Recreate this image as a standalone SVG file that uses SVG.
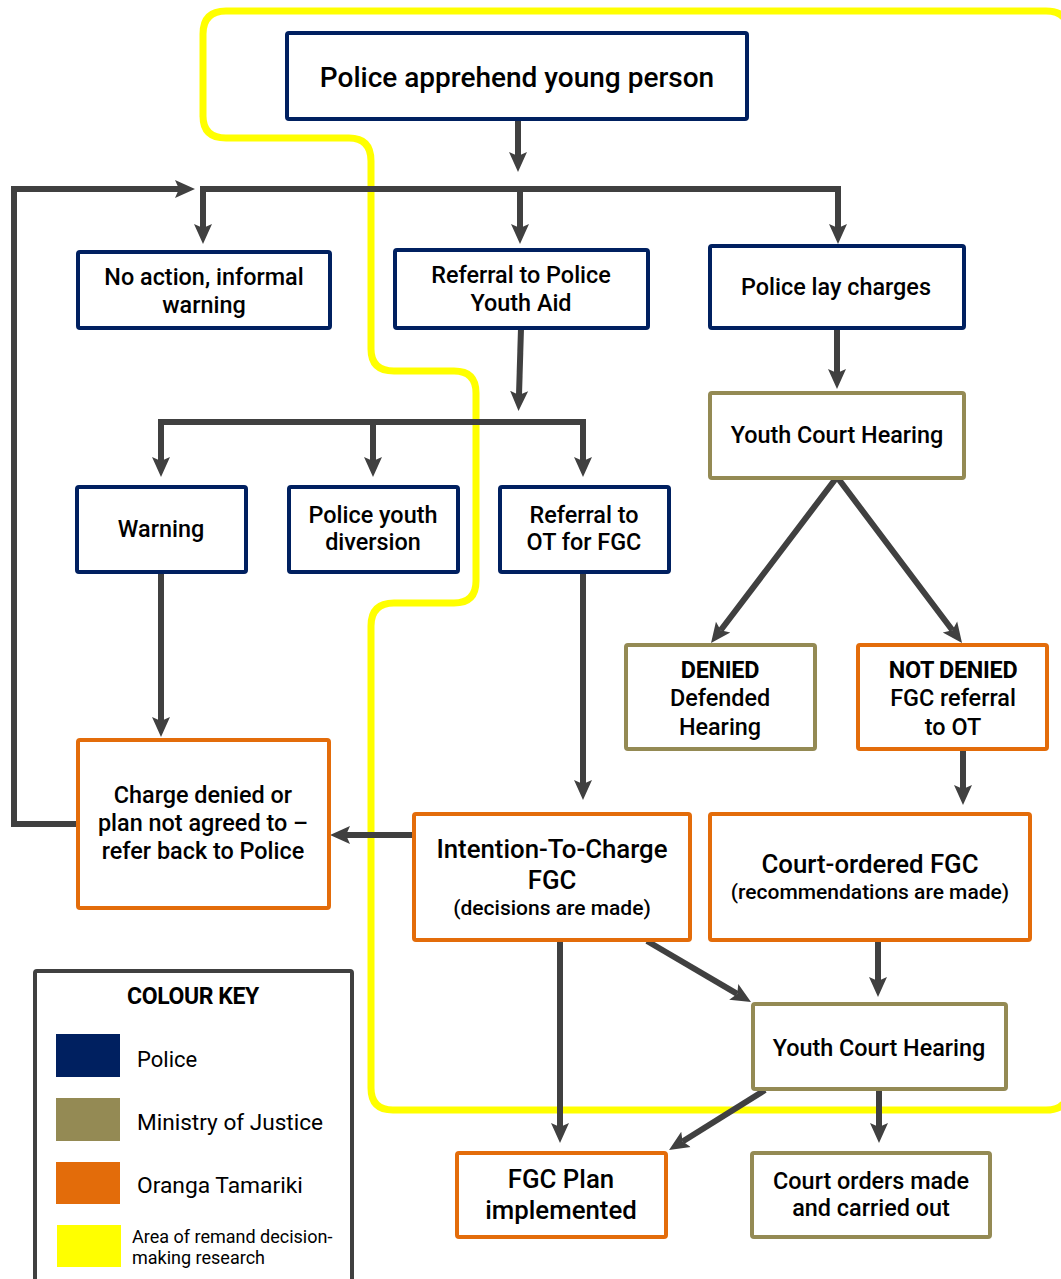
<svg xmlns="http://www.w3.org/2000/svg" width="1061" height="1279" viewBox="0 0 1061 1279">
<style>
.bg{fill:#ffffff}
.n rect{fill:#ffffff;stroke-width:4}
.police rect{stroke:#002060}
.moj rect{stroke:#948A54}
.ot rect{stroke:#E36C0A}
text{font-family:Roboto,"Liberation Sans",sans-serif;fill:#000000;text-anchor:middle}
.t{font-size:23.4px;font-weight:500}
.t24{font-size:25.8px;font-weight:500}
.t19{font-size:21px;font-weight:500}
.b{font-size:23.4px;font-weight:700;letter-spacing:-0.3px}
.c path,.c line{fill:none;stroke:#404040;stroke-width:6}
.yel{fill:none;stroke:#FFFF00;stroke-width:7}
.key text{text-anchor:start;font-weight:400}
</style>
<defs>
<marker id="ah" markerUnits="userSpaceOnUse" markerWidth="24" markerHeight="22" viewBox="0 -11 24 22" refX="4" refY="0" orient="auto-start-reverse">
<path d="M0,-9 L20,0 L0,9 L4,0 Z" fill="#404040"/>
</marker>
</defs>
<rect class="bg" x="0" y="0" width="1061" height="1279"/>
<path id="remand-area" class="yel" d="M203,117 L203,34 Q203,11 226,11 L1046,11 Q1069,11 1069,34 L1069,1087 Q1069,1110 1046,1110 L393,1110 Q371,1110 371,1088 L371,626 Q371,603 394,603 L454,603 Q476,603 476,581 L476,393 Q476,371 454,371 L394,371 Q371,371 371,349 L371,161 Q371,138 349,138 L226,138 Q203,138 203,116 Z"/>
<g id="connectors" class="c">
<path d="M518,119 L518,156" marker-end="url(#ah)"/>
<path d="M200,189 L841,189"/>
<path d="M203,189 L203,228" marker-end="url(#ah)"/>
<path d="M520,189 L520,228" marker-end="url(#ah)"/>
<path d="M838,189 L838,228" marker-end="url(#ah)"/>
<path d="M77,824 L14,824 L14,189 L179,189" marker-end="url(#ah)"/>
<path d="M521,328 L519,395" marker-end="url(#ah)"/>
<path d="M158,422 L586,422"/>
<path d="M161,422 L161,461" marker-end="url(#ah)"/>
<path d="M373,422 L373,461" marker-end="url(#ah)"/>
<path d="M583,422 L583,461" marker-end="url(#ah)"/>
<path d="M161,572 L161,721" marker-end="url(#ah)"/>
<path d="M583,572 L583,784" marker-end="url(#ah)"/>
<path d="M413,835 L346,835" marker-end="url(#ah)"/>
<path d="M837,328 L837,373" marker-end="url(#ah)"/>
<path d="M720.7,630.3 L837,477 L952.4,630.2" marker-start="url(#ah)" marker-end="url(#ah)"/>
<path d="M963,750 L963,789" marker-end="url(#ah)"/>
<path d="M878,940 L878,981" marker-end="url(#ah)"/>
<path d="M647,941 L737.2,993.9" marker-end="url(#ah)"/>
<path d="M560,940 L560,1127" marker-end="url(#ah)"/>
<path d="M765,1090 L682.6,1141.5" marker-end="url(#ah)"/>
<path d="M879,1090 L879,1127" marker-end="url(#ah)"/>
</g>
<g id="apprehend" class="n police"><rect x="287" y="33" width="460" height="86" rx="2"/><text x="517" y="87" style="font-size:28px;font-weight:500">Police apprehend young person</text></g>
<g id="no-action" class="n police"><rect x="78" y="252" width="252" height="76" rx="2"/><text class="t" x="204" y="285">No action, informal</text><text class="t" x="204" y="313">warning</text></g>
<g id="youth-aid" class="n police"><rect x="395" y="250" width="253" height="78" rx="2"/><text class="t" x="521" y="283">Referral to Police</text><text class="t" x="521" y="311">Youth Aid</text></g>
<g id="lay-charges" class="n police"><rect x="710" y="246" width="254" height="82" rx="2"/><text class="t" x="836" y="295">Police lay charges</text></g>
<g id="ych1" class="n moj"><rect x="710" y="393" width="254" height="85" rx="2"/><text class="t" x="837" y="443">Youth Court Hearing</text></g>
<g id="warning" class="n police"><rect x="77" y="487" width="169" height="85" rx="2"/><text class="t" x="161" y="537">Warning</text></g>
<g id="diversion" class="n police"><rect x="289" y="487" width="169" height="85" rx="2"/><text class="t" x="373" y="523">Police youth</text><text class="t" x="373" y="550">diversion</text></g>
<g id="referral-ot" class="n police"><rect x="500" y="487" width="169" height="85" rx="2"/><text class="t" x="584" y="523">Referral to</text><text class="t" x="584" y="550">OT for FGC</text></g>
<g id="denied" class="n moj"><rect x="626" y="645" width="189" height="104" rx="2"/><text class="b" x="720" y="678">DENIED</text><text class="t" x="720" y="706">Defended</text><text class="t" x="720" y="735">Hearing</text></g>
<g id="not-denied" class="n ot"><rect x="858" y="645" width="189" height="104" rx="2"/><text class="b" x="953" y="678">NOT DENIED</text><text class="t" x="953" y="706">FGC referral</text><text class="t" x="953" y="735">to OT</text></g>
<g id="charge-denied" class="n ot"><rect x="78" y="740" width="251" height="168" rx="2"/><text class="t" x="203" y="803">Charge denied or</text><text class="t" x="203" y="831">plan not agreed to –</text><text class="t" x="203" y="859">refer back to Police</text></g>
<g id="itc-fgc" class="n ot"><rect x="414" y="814" width="276" height="126" rx="2"/><text class="t24" x="552" y="858">Intention-To-Charge</text><text class="t24" x="552" y="889">FGC</text><text class="t19" x="552" y="915">(decisions are made)</text></g>
<g id="court-fgc" class="n ot"><rect x="710" y="814" width="320" height="126" rx="2"/><text class="t24" x="870" y="873">Court-ordered FGC</text><text class="t19" x="870" y="899">(recommendations are made)</text></g>
<g id="ych2" class="n moj"><rect x="753" y="1004" width="253" height="85" rx="2"/><text class="t" x="879" y="1056">Youth Court Hearing</text></g>
<g id="fgc-plan" class="n ot"><rect x="457" y="1153" width="209" height="84" rx="2"/><text class="t24" x="561" y="1188">FGC Plan</text><text class="t24" x="561" y="1219">implemented</text></g>
<g id="court-orders" class="n moj"><rect x="752" y="1153" width="238" height="84" rx="2"/><text class="t" x="871" y="1189">Court orders made</text><text class="t" x="871" y="1216">and carried out</text></g>
<g id="colour-key" class="key">
<rect x="35" y="971" width="317" height="320" fill="#ffffff" stroke="#404040" stroke-width="4" rx="2"/>
<text x="193" y="1004" style="text-anchor:middle;font-size:23px;font-weight:700;letter-spacing:-0.4px">COLOUR KEY</text>
<rect x="56" y="1034" width="64" height="43" fill="#002060"/>
<text x="137" y="1067" style="font-size:22px">Police</text>
<rect x="56" y="1098" width="64" height="43" fill="#948A54"/>
<text x="137" y="1130" style="font-size:22.6px">Ministry of Justice</text>
<rect x="56" y="1162" width="64" height="42" fill="#E36C0A"/>
<text x="137" y="1193" style="font-size:22.8px">Oranga Tamariki</text>
<rect x="57" y="1225" width="64" height="42" fill="#FFFF00"/>
<text x="132" y="1243" style="font-size:18px">Area of remand decision-</text>
<text x="132" y="1264" style="font-size:18px">making research</text>
</g>
</svg>
